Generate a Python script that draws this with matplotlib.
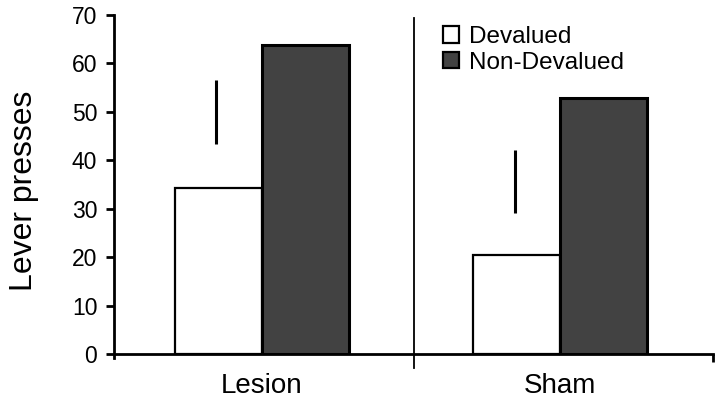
import matplotlib.pyplot as plt
from matplotlib.patches import Patch

plt.rcParams['font.family'] = ['Liberation Sans', 'DejaVu Sans']

# Data
groups = ["Lesion", "Sham"]
devalued = [34.3, 20.5]
non_devalued = [63.8, 52.9]
# floating error lines above the devalued bars
err_lo = [43.4, 29.1]
err_hi = [56.6, 42.1]

centers = [1.48, 4.47]
width = 0.87

fig = plt.figure(figsize=(7.2, 4.07), dpi=100)
ax = fig.add_axes([114 / 720, 1 - 354 / 407, 599 / 720, 339 / 407])

dev_x = [c - width / 2 for c in centers]
non_x = [c + width / 2 for c in centers]
ax.bar(dev_x, devalued, width, color='white', edgecolor='black', linewidth=1.6, zorder=2)
ax.bar(non_x, non_devalued, width, color='#424242', edgecolor='black', linewidth=2.2, zorder=2)
ax.vlines([x - 0.02 for x in dev_x], err_lo, err_hi, color='black', linewidth=2.2)

# separator between groups
ax.plot([3.0, 3.0], [-2.9, 69.4], color='black', linewidth=1.3, clip_on=False)

ax.set_xlim(0, 6)
ax.set_ylim(0, 70)
ax.spines['top'].set_visible(False)
ax.spines['right'].set_visible(False)
ax.spines['left'].set_linewidth(2)
ax.spines['bottom'].set_linewidth(2)
ax.spines['left'].set_bounds(-0.8, 70)

ax.set_yticks(range(0, 71, 10))
ax.tick_params(axis='y', direction='out', length=6, width=2, labelsize=16.5, pad=6)
ax.set_xticks(centers)
ax.set_xticklabels(groups, fontsize=20)
ax.tick_params(axis='x', length=0, pad=14)
ax.set_xticks([6], minor=True)
ax.tick_params(axis='x', which='minor', length=6, width=2, direction='out')

ax.set_ylabel('Lever presses', fontsize=23)
ax.yaxis.set_label_coords(-0.125, 0.48)

handles = [Patch(facecolor='white', edgecolor='black', linewidth=1.6, label='Devalued'),
           Patch(facecolor='#424242', edgecolor='black', linewidth=1.6, label='Non-Devalued')]
fig.legend(handles=handles, loc='upper left', bbox_to_anchor=(426 / 720, 1 - 9 / 407),
           frameon=False, fontsize=17.5, handlelength=0.65, handleheight=0.65,
           handletextpad=0.4, labelspacing=0.15, borderpad=0.2)

fig.savefig('out.png', dpi=100)
